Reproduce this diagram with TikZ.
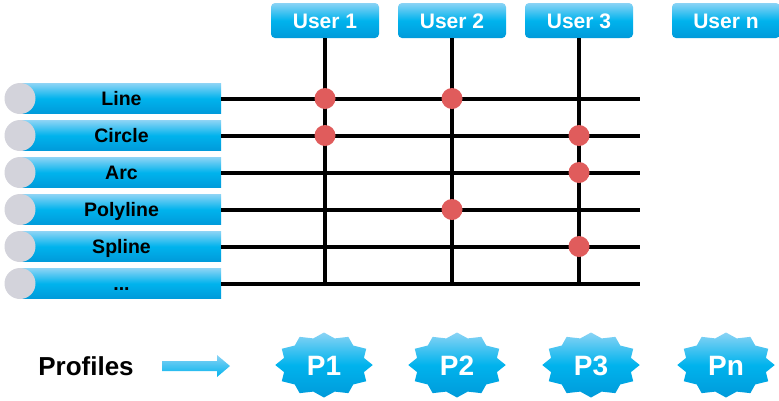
\documentclass[tikz,border=0pt]{standalone}
\usepackage{fontspec}
\setmainfont{Liberation Sans}
\usetikzlibrary{shapes.geometric}
\definecolor{bTop}{HTML}{8AD3F5}
\definecolor{bMid}{HTML}{00B3ED}
\definecolor{bBot}{HTML}{009ADA}
\definecolor{dotred}{HTML}{E05C5C}
\definecolor{knob}{HTML}{D3D3DB}
\begin{document}
\begin{tikzpicture}[x=1pt,y=-1pt,
  blueshade/.style={top color=bTop, bottom color=bBot, middle color=bMid},
  barbox/.style={rectangle, minimum width=199pt, minimum height=30pt, inner sep=0pt, blueshade,
    text height=14pt, text depth=0pt, font=\bfseries\fontsize{19.5}{19.5}\selectfont},
  knobc/.style={circle, minimum size=31pt, inner sep=0pt, fill=knob},
  userbox/.style={rectangle, rounded corners=4pt, minimum width=108pt, minimum height=35pt, inner sep=0pt,
    blueshade, text=white, text height=15pt, text depth=0pt, font=\bfseries\fontsize{21}{21}\selectfont},
  wire/.style={line width=4pt},
  hit/.style={circle, minimum size=21pt, inner sep=0pt, fill=dotred},
  burst/.style={star, star points=12, star point ratio=1.18, minimum size=65pt, inner sep=0pt,
    blueshade, xscale=1.5},
  btext/.style={text=white, text height=20pt, text depth=0pt, font=\bfseries\fontsize{28}{28}\selectfont},
]
\useasboundingbox (0,0) rectangle (779,400);

% users
\node[userbox] (u1) at (325,20.5) {User 1};
\node[userbox] (u2) at (452,20.5) {User 2};
\node[userbox] (u3) at (579,20.5) {User 3};
\node[userbox] (un) at (726,20.5) {User n};

% bars
\foreach \i/\t/\y in {1/Line/98.5, 2/Circle/135.5, 3/Arc/172.5, 4/Polyline/209.5, 5/Spline/246.5}{
  \node[barbox] (bar\i) at (121.5,\y) {\t};
  \node[knobc] (k\i) at (20,\y) {};
}
\node[barbox] (bar6) at (121.5,283.5) {...};
\node[knobc] (k6) at (20,283.5) {};

\coordinate (xend) at (640,0);

% wires
\foreach \i in {1,2,3,4,5,6}{
  \draw[wire] (bar\i.east) -- (bar\i.east -| xend);
}
\foreach \u in {u1,u2,u3}{
  \draw[wire] (\u.south) -- (\u.south |- bar6.east);
}

% hits
\node[hit] (h11) at (u1 |- bar1.east) {};
\node[hit] (h21) at (u2 |- bar1.east) {};
\node[hit] (h12) at (u1 |- bar2.east) {};
\node[hit] (h32) at (u3 |- bar2.east) {};
\node[hit] (h33) at (u3 |- bar3.east) {};
\node[hit] (h24) at (u2 |- bar4.east) {};
\node[hit] (h35) at (u3 |- bar5.east) {};

% profiles
\node[font=\bfseries\fontsize{26}{26}\selectfont] (prof) at (86,366) {Profiles};
\shade[top color=bTop, bottom color=bMid] (162,361) -- (217,361) -- (217,355) -- (230,366)
  -- (217,377) -- (217,371) -- (162,371) -- cycle;

\node[burst] (p1) at (324,365) {};
\node[burst] (p2) at (457,365) {};
\node[burst] (p3) at (591,365) {};
\node[burst] (pn) at (726,365) {};
\node[btext] (p1t) at (p1) {P1};
\node[btext] (p2t) at (p2) {P2};
\node[btext] (p3t) at (p3) {P3};
\node[btext] (pnt) at (pn) {Pn};
\end{tikzpicture}
\end{document}
